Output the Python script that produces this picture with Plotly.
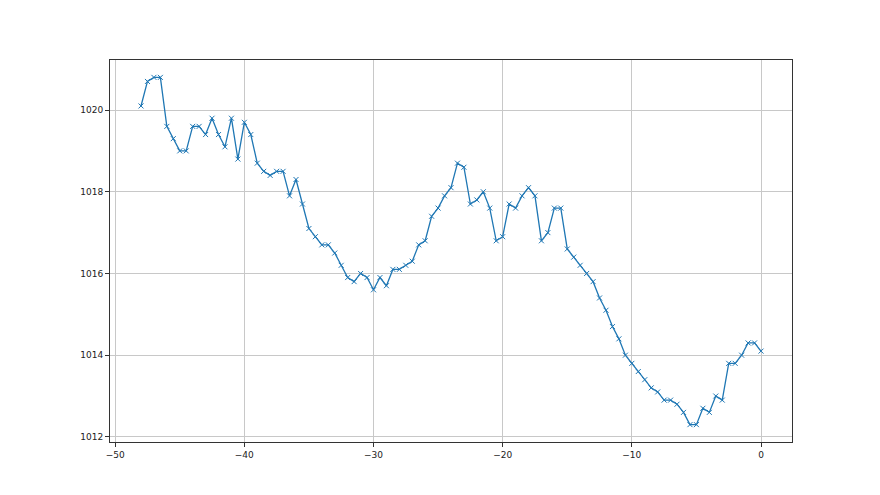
import numpy as np
import plotly.graph_objects as go

x_vals = [-48 + 0.5 * i for i in range(97)]
pressure = [
    1020.1, 1020.7, 1020.8, 1020.8, 1019.6, 1019.3, 1019.0, 1019.0, 1019.6, 1019.6,
    1019.4, 1019.8, 1019.4, 1019.1, 1019.8, 1018.8, 1019.7, 1019.4, 1018.7, 1018.5,
    1018.4, 1018.5, 1018.5, 1017.9, 1018.3, 1017.7, 1017.1, 1016.9, 1016.7, 1016.7,
    1016.5, 1016.2, 1015.9, 1015.8, 1016.0, 1015.9, 1015.6, 1015.9, 1015.7, 1016.1,
    1016.1, 1016.2, 1016.3, 1016.7, 1016.8, 1017.4, 1017.6, 1017.9, 1018.1, 1018.7,
    1018.6, 1017.7, 1017.8, 1018.0, 1017.6, 1016.8, 1016.9, 1017.7, 1017.6, 1017.9,
    1018.1, 1017.9, 1016.8, 1017.0, 1017.6, 1017.6, 1016.6, 1016.4, 1016.2, 1016.0,
    1015.8, 1015.4, 1015.1, 1014.7, 1014.4, 1014.0, 1013.8, 1013.6, 1013.4, 1013.2,
    1013.1, 1012.9, 1012.9, 1012.8, 1012.6, 1012.3, 1012.3, 1012.7, 1012.6, 1013.0,
    1012.9, 1013.8, 1013.8, 1014.0, 1014.3, 1014.3, 1014.1,
]
x_ticks = [-50, -40, -30, -20, -10, 0]
y_ticks = [1012, 1014, 1016, 1018, 1020]

fig = go.Figure()
fig.add_trace(go.Scatter(
    x=x_vals, y=pressure, mode="lines+markers",
    line=dict(color="#1f77b4", width=1.3),
    marker=dict(symbol="x-thin", size=5, color="#1f77b4",
                line=dict(color="#1f77b4", width=1)),
    showlegend=False,
))

xmin, xmax = min(x_vals), max(x_vals)
ymin, ymax = min(pressure), max(pressure)
xpad = 0.05 * (xmax - xmin)
ypad = 0.05 * (ymax - ymin)

axis_common = dict(
    showgrid=True, gridcolor="#c8c8c8", gridwidth=1,
    showline=True, linecolor="#333333", linewidth=1, mirror=True,
    ticks="outside", ticklen=4, tickcolor="#333333",
    zeroline=False, tickfont=dict(family="DejaVu Sans", size=9, color="#222222"),
)
fig.update_xaxes(range=[xmin - xpad, xmax + xpad], tickvals=x_ticks, **axis_common)
fig.update_yaxes(range=[ymin - ypad, ymax + ypad], tickvals=y_ticks, **axis_common)

fig.update_layout(
    width=880, height=495,
    margin=dict(l=102, r=96, t=52, b=61),
    plot_bgcolor="white", paper_bgcolor="white",
)
fig.write_html("out.html")
